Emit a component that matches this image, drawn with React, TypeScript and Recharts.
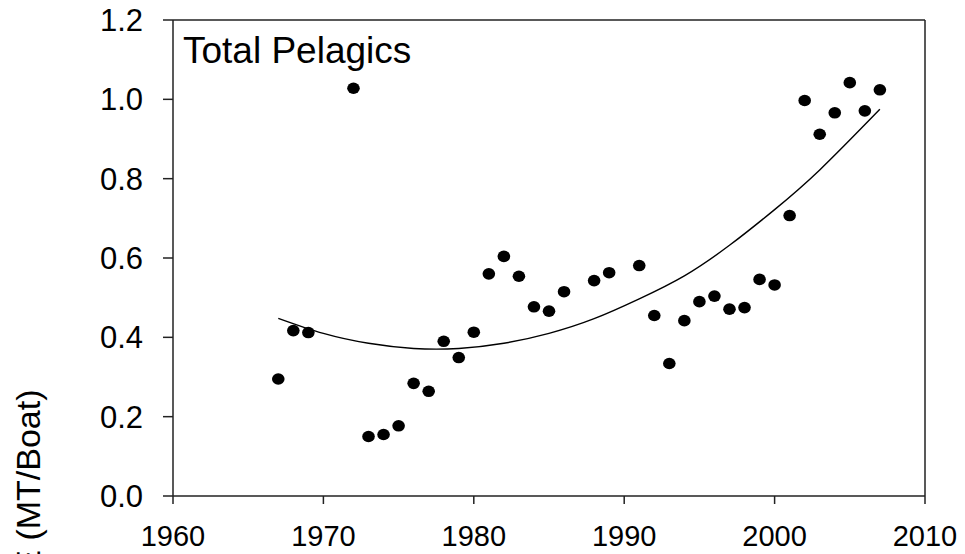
import React from 'react'
import { ComposedChart, Scatter, Line, XAxis, YAxis, ReferenceLine } from 'recharts'

const years = [
  1967, 1968, 1969, 1972, 1973, 1974, 1975, 1976, 1977, 1978, 1979, 1980, 1981, 1982, 1983,
  1984, 1985, 1986, 1988, 1989, 1991, 1992, 1993, 1994, 1995, 1996, 1997, 1998, 1999, 2000,
  2001, 2002, 2003, 2004, 2005, 2006, 2007,
]
const cpue = [
  0.295, 0.417, 0.412, 1.028, 0.15, 0.155, 0.177, 0.284, 0.264, 0.39, 0.349, 0.413, 0.56, 0.604,
  0.554, 0.477, 0.466, 0.515, 0.543, 0.563, 0.581, 0.455, 0.334, 0.442, 0.49, 0.504, 0.471,
  0.475, 0.546, 0.532, 0.707, 0.997, 0.912, 0.966, 1.042, 0.971, 1.024,
]

// fitted trend curve at a few years
const trendYears = [1967, 1970, 1973, 1976, 1979, 1982, 1985, 1988, 1991, 1994, 1997, 2000, 2003, 2007]
const trendValues = [0.448, 0.41, 0.385, 0.372, 0.372, 0.385, 0.41, 0.447, 0.497, 0.555, 0.632, 0.722, 0.822, 0.975]

const xTicks = [1960, 1970, 1980, 1990, 2000, 2010]
const yTicks = [0, 0.2, 0.4, 0.6, 0.8, 1.0, 1.2]

const points = years.map((year, i) => ({ year, value: cpue[i] }))
const trend = trendYears.map((year, i) => ({ year, value: trendValues[i] }))

const font = 'Arial, "Liberation Sans", sans-serif'
const axisColor = '#222'

const Dot = (props: any) => <ellipse cx={props.cx} cy={props.cy} rx={6.3} ry={5.8} fill="#000" />

export default function App() {
  return (
    <div style={{ position: 'absolute', left: 0, top: 0, background: '#fff' }}>
      <ComposedChart width={965} height={554} margin={{ top: 20, right: 40, bottom: 0, left: 0 }}>
        <XAxis
          type="number"
          dataKey="year"
          domain={[1960, 2010]}
          ticks={xTicks}
          height={58}
          tickSize={8}
          tickMargin={21}
          axisLine={{ stroke: axisColor, strokeWidth: 1.5 }}
          tickLine={{ stroke: axisColor, strokeWidth: 1.5 }}
          tick={{ fill: '#000', fontSize: 29, fontFamily: font }}
          allowDataOverflow
        />
        <YAxis
          type="number"
          dataKey="value"
          domain={[0, 1.2]}
          ticks={yTicks}
          width={173}
          tickSize={10}
          tickMargin={20}
          tickFormatter={(v: number) => v.toFixed(1)}
          axisLine={{ stroke: axisColor, strokeWidth: 1.5 }}
          tickLine={{ stroke: axisColor, strokeWidth: 1.5 }}
          tick={{ fill: '#000', fontSize: 31, fontFamily: font }}
          label={{
            content: () => (
              <text
                transform="translate(40,517) rotate(-90)"
                textAnchor="middle"
                fontSize={34}
                fontFamily={font}
                fill="#000"
              >
                CPUE (MT/Boat)
              </text>
            ),
          }}
          allowDataOverflow
        />
        <ReferenceLine y={1.2} stroke={axisColor} strokeWidth={1.5} />
        <ReferenceLine x={2010} stroke={axisColor} strokeWidth={1.5} />
        <Line
          data={trend}
          dataKey="value"
          type="natural"
          stroke="#000"
          strokeWidth={1.4}
          dot={false}
          activeDot={false}
          isAnimationActive={false}
        />
        <Scatter data={points} dataKey="value" shape={Dot} isAnimationActive={false} />
        <text x={183} y={63} fontSize={37} fontFamily={font} fill="#000">
          Total Pelagics
        </text>
      </ComposedChart>
    </div>
  )
}
